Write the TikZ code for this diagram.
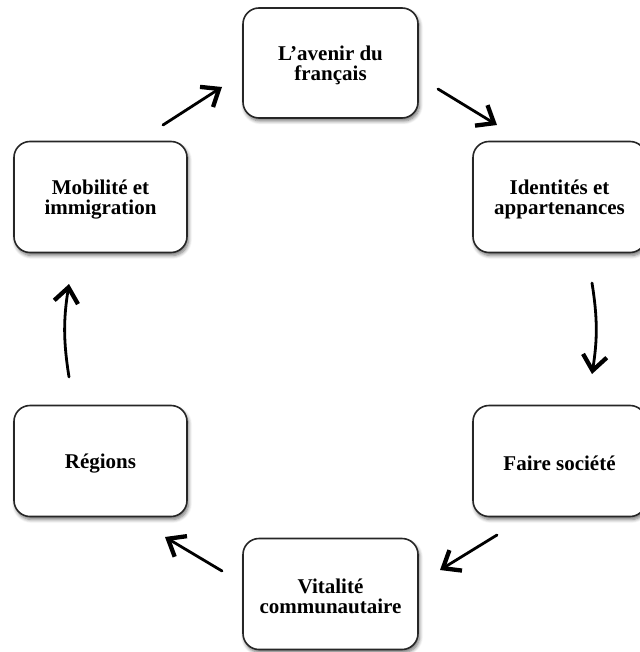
\documentclass[tikz,border=0pt]{standalone}
\usepackage{fontspec}
\setmainfont{Liberation Serif}
\usetikzlibrary{arrows.meta,shadows.blur}
\tikzset{
  boxnode/.style={draw=black!85, line width=1.6pt, rounded corners=16pt, fill=white,
    minimum width=173pt, minimum height=111pt, inner sep=0pt,
    blur shadow={shadow xshift=1.5pt, shadow yshift=-3pt, shadow blur steps=6,
      shadow blur radius=3.5pt, shadow opacity=55}},
  boxtext/.style={align=center, inner sep=0pt,
    font=\fontsize{21}{20}\selectfont\bfseries},
  flow/.style={line width=2.8pt, line cap=round,
    -{Straight Barb[length=15pt,width=24pt,line width=4.3pt]}}
}
\begin{document}
\begin{tikzpicture}[x=1pt,y=-1pt]
\useasboundingbox (0,0) rectangle (639,652);
\node[boxnode, minimum width=175pt, minimum height=110pt] (top) at (330.5,63) {};
\node[boxnode] (ru) at (559.5,197) {};
\node[boxnode] (rl) at (559.5,461) {};
\node[boxnode, minimum width=175pt] (bot) at (330.5,594) {};
\node[boxnode] (ll) at (100.5,461) {};
\node[boxnode] (lu) at (100.5,197) {};
\node[boxtext] (topt) at ([yshift=-2.5pt]top.center) {L’avenir du\\français};
\node[boxtext] (rut) at ([yshift=-2.5pt]ru.center) {Identités et\\appartenances};
\node[boxtext] (rlt) at ([yshift=-2.5pt]rl.center) {Faire société};
\node[boxtext] (bott) at ([yshift=-2.5pt]bot.center) {Vitalité\\communautaire};
\node[boxtext] (llt) at ([yshift=-2.5pt]ll.center) {Régions};
\node[boxtext] (lut) at ([yshift=-2.5pt]lu.center) {Mobilité et\\immigration};
% arrow end points
\coordinate (a1s) at (438,89);  \coordinate (a1e) at (497,125);
\coordinate (a2s) at (592,283); \coordinate (a2e) at (592,374);
\coordinate (a3s) at (497,535); \coordinate (a3e) at (440,570);
\coordinate (a4s) at (222,571); \coordinate (a4e) at (165,537);
\coordinate (a5s) at (69,377);  \coordinate (a5e) at (69,284);
\coordinate (a6s) at (163,125); \coordinate (a6e) at (222,87);
\draw[flow] (a1s) -- (a1e);
\draw[flow] (a2s) to[bend left=9] (a2e);
\draw[flow] (a3s) -- (a3e);
\draw[flow] (a4s) -- (a4e);
\draw[flow] (a5s) to[bend left=9] (a5e);
\draw[flow] (a6s) -- (a6e);
\end{tikzpicture}
\end{document}
